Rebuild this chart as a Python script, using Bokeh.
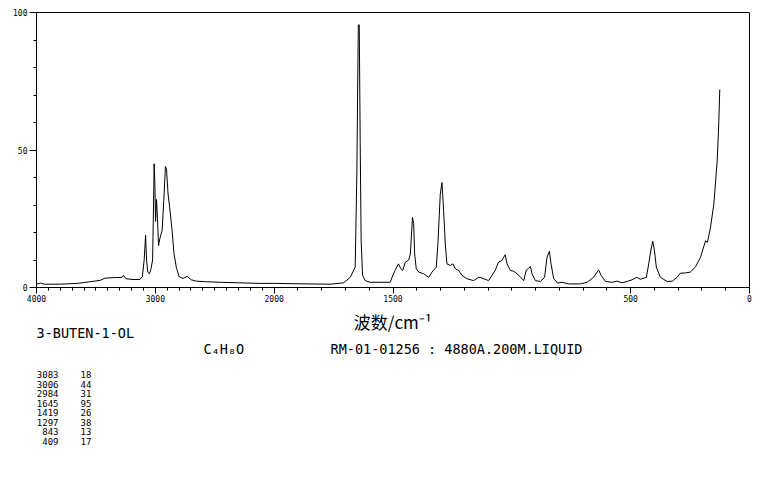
import numpy as np
from bokeh.plotting import figure
from bokeh.layouts import column
from bokeh.models import FixedTicker, ColumnDataSource, Range1d
from bokeh.core.properties import value
from bokeh.embed import file_html
from bokeh.resources import INLINE

# ---- spectrum data (Raman shift in cm-1, relative intensity) ----
wavenumber = [4000, 3967, 3933, 3799, 3657, 3565, 3464, 3423, 3339, 3280, 3268, 3247,
              3188, 3130, 3109, 3094, 3082, 3074, 3063, 3050, 3038, 3023, 3015, 3010,
              3004, 2998, 2990, 2982, 2973, 2962, 2943, 2929, 2915, 2906, 2893, 2879,
              2859, 2843, 2823, 2801, 2767, 2732, 2697, 2655, 2569, 2460, 2293, 2126,
              2000, 1933, 1848, 1764, 1708, 1680, 1659, 1652, 1646, 1642, 1638, 1634,
              1628, 1617, 1596, 1512, 1504, 1491, 1477, 1467, 1459, 1448, 1434, 1427,
              1418, 1413, 1409, 1402, 1392, 1371, 1350, 1336, 1318, 1311, 1301, 1294,
              1287, 1280, 1273, 1259, 1248, 1238, 1224, 1210, 1189, 1161, 1140, 1133,
              1098, 1070, 1056, 1042, 1028, 1020, 1006, 992, 978, 957, 950, 939, 929,
              922, 915, 901, 880, 862, 852, 842, 835, 824, 807, 789, 761, 712, 683,
              656, 641, 635, 624, 606, 578, 557, 536, 515, 494, 474, 459, 434, 424,
              414, 407, 400, 392, 375, 347, 325, 305, 291, 270, 249, 228, 206, 185,
              177, 164, 150, 136, 130, 125]
intensity = [1.2, 1.6, 1.2, 1.2, 1.5, 2.0, 2.6, 3.4, 3.6, 3.7, 4.4, 3.2,
             2.9, 2.9, 4.0, 10, 19, 10, 5.5, 5, 6.5, 10, 30, 45,
             38, 24, 32, 25, 15.2, 17.8, 20.7, 31.6, 44, 43, 34, 29,
             20.7, 12.3, 7.3, 4, 3.3, 4, 2.8, 2.3, 2.1, 1.9, 1.7, 1.5,
             1.5, 1.4, 1.3, 1.2, 1.7, 3.7, 7.4, 42, 95.5, 95.5, 52.7, 17,
             4.4, 2.5, 1.9, 1.9, 3.7, 6.2, 8.6, 6.8, 6.2, 9.2, 10, 12.2,
             25.5, 23.2, 12.2, 6.8, 5.6, 5, 3.7, 5.6, 7.4, 15.9, 34, 38.2,
             28, 15.9, 8.6, 8, 8.6, 6.8, 6.2, 4.4, 3.2, 2.5, 3.7, 3.7,
             2.5, 6.2, 9.2, 9.8, 11.9, 8.6, 6.2, 5.9, 5, 3.2, 2.5, 6.4, 7,
             7.7, 5, 2.5, 2.2, 3.7, 11, 13.2, 8.6, 3.2, 1.6, 1.9, 1.3, 1.3, 1.9,
             3.7, 5.6, 6.4, 4.4, 2.2, 1.9, 2.3, 1.7, 2.2, 2.8, 3.7, 3, 3.7, 8.6,
             14, 16.8, 13.4, 7.4, 3.7, 2.2, 2.3, 3.7, 5.2, 5.3, 5.6, 7.4, 11, 17,
             16.4, 21.9, 30.4, 46, 58, 72]

x_tick_values = [4000, 3000, 2000, 1500, 500, 0]
x_minor_values = list(range(4000, -1, -100))
y_tick_values = [0, 50, 100]
y_minor_values = list(range(0, 101, 10))

x_title = "波数/cm⁻¹"
compound_name = "3-BUTEN-1-OL"
formula = "C₄H₈O"
sample_info = "RM-01-01256 : 4880A.200M.LIQUID"
peak_wavenumbers = [3083, 3006, 2984, 1645, 1419, 1297, 843, 409]
peak_intensities = [18, 44, 31, 95, 26, 38, 13, 17]


def to_axis(w):
    """Piecewise axis: 4000-2000 cm-1 drawn at half the scale of 2000-0."""
    w = np.asarray(w, dtype=float)
    return np.where(w >= 2000, (4000 - w) / 2.0, 1000 + (2000 - w))


MONO = "DejaVu Sans Mono"
W = 759
LEFT, RIGHT_EDGE = 36, 749
TOP_H = 305

p = figure(width=W, height=TOP_H, output_backend="svg", toolbar_location=None,
           x_range=Range1d(0, 3000), y_range=Range1d(0, 100),
           min_border_left=LEFT, min_border_right=W - RIGHT_EDGE, min_border_top=12,
           min_border_bottom=TOP_H - 287)
p.grid.visible = False
p.outline_line_color = "black"
p.outline_line_width = 1
p.background_fill_color = "white"
p.border_fill_color = "white"

src = ColumnDataSource(dict(x=to_axis(wavenumber), y=intensity))
p.line("x", "y", source=src, line_color="black", line_width=1)

xt = [float(v) for v in to_axis(x_tick_values)]
p.xaxis.ticker = FixedTicker(ticks=xt, minor_ticks=[float(v) for v in to_axis(x_minor_values)])
p.xaxis.major_label_overrides = {v: str(w) for v, w in zip(xt, x_tick_values)}
p.yaxis.ticker = FixedTicker(ticks=y_tick_values, minor_ticks=y_minor_values)

for ax in (p.xaxis[0], p.yaxis[0]):
    ax.axis_line_color = "black"
    ax.major_tick_line_color = "black"
    ax.minor_tick_line_color = "black"
    ax.major_tick_in = 0
    ax.minor_tick_in = 0
    ax.minor_tick_out = 3
    ax.major_label_text_font = MONO
    ax.major_label_text_font_size = "8px"
    ax.major_label_text_color = "black"

p.xaxis.major_tick_out = 6
p.yaxis.major_tick_out = 7
p.xaxis.major_label_standoff = 1
p.yaxis.major_label_standoff = 2

# ---- text block below the chart (frame aligned with the chart's frame) ----
TXT_H = 160
t = figure(width=W, height=TXT_H, output_backend="svg", toolbar_location=None,
           x_range=Range1d(LEFT, RIGHT_EDGE), y_range=Range1d(TXT_H, 0),
           x_axis_location=None, y_axis_location=None,
           min_border_left=LEFT, min_border_right=W - RIGHT_EDGE,
           min_border_top=0, min_border_bottom=0)
t.grid.visible = False
t.outline_line_color = None
t.background_fill_color = "white"
t.border_fill_color = "white"


def put(x, y, text, font, size, align="left"):
    t.text(x=[x], y=[y], text=[text], text_font=value(font), text_font_size=size,
           text_color="black", text_align=align, text_baseline="middle")


off = TOP_H  # page y of the text panel's top
put(392, 321 - off, x_title, "Noto Sans CJK SC", "17px", "center")
put(36, 332 - off, compound_name, MONO, "13.5px")
put(203, 348 - off, formula, MONO, "13.5px")
put(330, 348 - off, sample_info, MONO, "13.5px")
for i, (w, v) in enumerate(zip(peak_wavenumbers, peak_intensities)):
    yy = 374 + i * 9.57 - off
    put(58, yy, str(w), MONO, "9px", "right")
    put(80, yy, str(v), MONO, "9px", "left")

open("out.html", "w").write(file_html(column(p, t, spacing=0), INLINE))
